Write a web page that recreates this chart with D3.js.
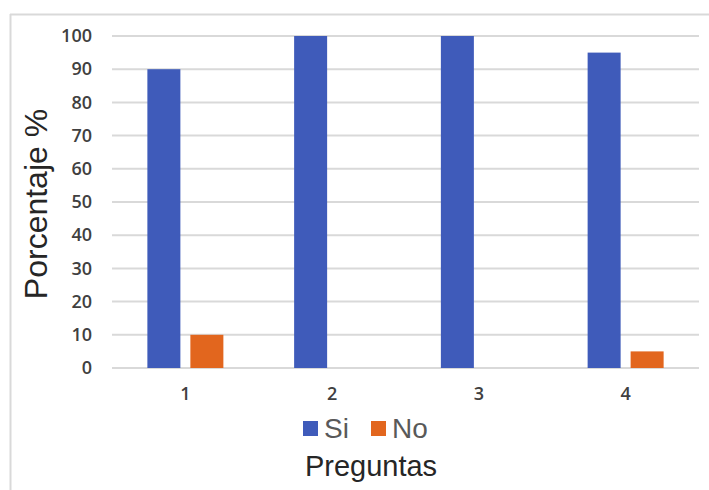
<!DOCTYPE html>
<html>
<head>
<meta charset="utf-8">
<script src="https://cdn.jsdelivr.net/npm/d3@7"></script>
<style>
  html, body { margin: 0; padding: 0; background: #fff; }
  svg { display: block; }
</style>
</head>
<body>
<svg id="chart" width="709" height="490"></svg>
<script>
// Survey answers per question, in percent
const categories = ["1", "2", "3", "4"];
const seriesNames = ["Si", "No"];
const siValues = [90, 100, 100, 95];
const noValues = [10, 0, 0, 5];
const yTicks = [0, 10, 20, 30, 40, 50, 60, 70, 80, 90, 100];
const colors = ["#3F5BBA", "#E2661E"];

const svg = d3.select("#chart");
const plotLeft = 112, plotRight = 699, plotTop = 36, plotBottom = 368;
const tickFont = "'Open Sans', 'Liberation Sans', sans-serif";
const titleFont = "'Liberation Sans', Arial, sans-serif";

// frame around the chart area
svg.append("line").attr("x1", 10).attr("x2", 709).attr("y1", 14.5).attr("y2", 14.5)
  .attr("stroke", "#d9d9d9").attr("stroke-width", 2);
svg.append("line").attr("x1", 10.5).attr("x2", 10.5).attr("y1", 14).attr("y2", 490)
  .attr("stroke", "#d9d9d9").attr("stroke-width", 2);

const x = d3.scaleBand().domain(categories).range([plotLeft, plotRight]);
const x1 = d3.scaleBand().domain(seriesNames).range([0, x.bandwidth()])
  .paddingInner(0.2326).paddingOuter(0.8227);
const y = d3.scaleLinear().domain([0, 100]).range([plotBottom, plotTop]);

// horizontal gridlines
svg.append("g").selectAll("line").data(yTicks).join("line")
  .attr("x1", plotLeft).attr("x2", plotRight)
  .attr("y1", d => y(d)).attr("y2", d => y(d))
  .attr("stroke", "#d9d9d9").attr("stroke-width", 2);

// y axis labels
const yAxis = d3.axisLeft(y).tickValues(yTicks).tickSize(0).tickPadding(0);
const yg = svg.append("g").attr("transform", "translate(92,0)").call(yAxis);
yg.select(".domain").remove();
yg.selectAll("text").attr("font-family", tickFont)
  .attr("font-size", 18).attr("font-weight", 600).attr("fill", "#404040");

// bars
const rows = categories.map((c, i) => ({ cat: c, vals: [siValues[i], noValues[i]] }));
const groups = svg.append("g").selectAll("g").data(rows).join("g")
  .attr("transform", d => `translate(${x(d.cat)},0)`);
groups.selectAll("rect").data(d => d.vals.map((v, j) => ({ name: seriesNames[j], v, j })))
  .join("rect")
  .attr("x", d => x1(d.name))
  .attr("width", x1.bandwidth())
  .attr("y", d => y(d.v))
  .attr("height", d => plotBottom - y(d.v))
  .attr("fill", d => colors[d.j]);

// x axis labels
const xAxis = d3.axisBottom(x).tickSize(0).tickPadding(0);
const xg = svg.append("g").attr("transform", `translate(0,${plotBottom + 19})`).call(xAxis);
xg.select(".domain").remove();
xg.selectAll("text").attr("font-family", tickFont)
  .attr("font-size", 18).attr("font-weight", 600).attr("fill", "#404040");

// legend
const legend = svg.append("g").attr("transform", "translate(303,428)");
const legendX = [0, 68];
seriesNames.forEach((n, i) => {
  const g = legend.append("g").attr("transform", `translate(${legendX[i]},0)`);
  g.append("rect").attr("x", 0).attr("y", -7).attr("width", 15).attr("height", 15).attr("fill", colors[i]);
  g.append("text").attr("x", 21).attr("y", 0).attr("dy", "0.36em")
    .attr("font-family", titleFont).attr("font-size", 28)
    .attr("fill", "#595959").text(n);
});

// axis titles
svg.append("text").attr("x", 371).attr("y", 466).attr("dy", "0.36em")
  .attr("text-anchor", "middle")
  .attr("font-family", titleFont).attr("font-size", 29)
  .attr("fill", "#262626").text("Preguntas");
svg.append("text").attr("transform", "translate(35,204) rotate(-90)").attr("dy", "0.36em")
  .attr("text-anchor", "middle")
  .attr("font-family", titleFont).attr("font-size", 32)
  .attr("fill", "#262626").text("Porcentaje %");
</script>
</body>
</html>
